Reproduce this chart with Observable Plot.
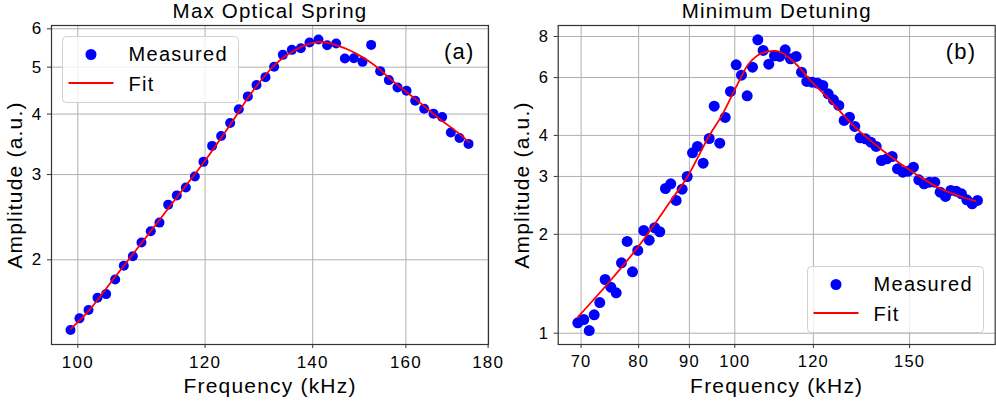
<!DOCTYPE html>
<html><head><meta charset="utf-8">
<script src="https://cdn.jsdelivr.net/npm/d3@7"></script>
<script src="https://cdn.jsdelivr.net/npm/@observablehq/plot@0.6"></script>
<style>
body{margin:0;background:#fff;}
#wrap{position:relative;width:996px;height:403px;overflow:hidden;font-family:"Liberation Sans",Arial,sans-serif;}
.panel{position:absolute;top:0;}
.legend{position:absolute;overflow:visible;}
</style></head>
<body><div id="wrap"></div>
<script>
// ---------- data ----------
const titleA = "Max Optical Spring";
const titleB = "Minimum Detuning";
const xLabel = "Frequency (kHz)";
const yLabel = "Amplitude (a.u.)";
const tagA = "(a)", tagB = "(b)";
const legendLabels = ["Measured", "Fit"];

const aXTicks = [100, 120, 140, 160, 180];
const aYTicks = [2, 3, 4, 5, 6];
const bXTicks = [70, 80, 90, 100, 120, 150];
const bYTicks = [1, 2, 3, 4, 6, 8];

const aFreq = [98.96, 100.24, 101.54, 102.86, 104.14, 105.50, 106.81, 108.20, 109.55, 111.02,
  112.41, 113.82, 115.24, 116.74, 118.25, 119.72, 121.22, 122.79, 124.39, 125.94,
  127.58, 129.17, 130.85, 132.48, 134.14, 135.88, 137.64, 139.36, 141.17, 142.93,
  144.79, 146.60, 148.50, 150.36, 152.23, 154.21, 156.14, 158.09, 160.15, 162.15,
  164.25, 166.45, 168.54, 170.64, 172.77, 175.02];
const aAmp = [1.433, 1.514, 1.576, 1.670, 1.699, 1.822, 1.944, 2.035, 2.171, 2.291,
  2.387, 2.600, 2.717, 2.822, 2.973, 3.187, 3.438, 3.605, 3.834, 4.091,
  4.351, 4.591, 4.768, 5.008, 5.301, 5.428, 5.471, 5.620, 5.700, 5.549,
  5.593, 5.209, 5.218, 5.127, 5.558, 4.906, 4.701, 4.541, 4.469, 4.262,
  4.104, 4.008, 3.945, 3.663, 3.571, 3.471];
const aFitFreq = [99.0, 101.6, 105.3, 111.0, 116.4, 119.8, 124.4, 128.1, 131.8, 134.3, 136.5, 138.5,
  140.9, 143.0, 145.0, 147.0, 149.2, 151.5, 153.5, 158.0, 162.6, 167.4, 172.2, 175.1];
const aFitAmp = [1.44, 1.57, 1.83, 2.29, 2.81, 3.18, 3.80, 4.40, 4.95, 5.24, 5.42, 5.55,
  5.63, 5.62, 5.54, 5.45, 5.32, 5.16, 5.00, 4.60, 4.27, 3.94, 3.67, 3.50];

const bFreq = [69.47, 70.44, 71.33, 72.16, 73.10, 74.02, 74.99, 75.94, 76.88, 77.90,
  78.87, 79.84, 80.96, 81.98, 83.05, 84.02, 85.14, 86.19, 87.28, 88.50,
  89.54, 90.65, 91.70, 92.92, 94.23, 95.33, 96.57, 97.79, 99.00, 100.32,
  101.56, 102.91, 104.19, 105.48, 106.80, 108.20, 109.64, 110.99, 112.40, 113.79,
  115.30, 116.73, 118.18, 119.65, 121.14, 122.65, 124.18, 125.72, 127.29, 128.88,
  130.48, 132.10, 133.75, 135.42, 137.10, 138.81, 140.54, 142.29, 144.06, 145.85,
  147.67, 149.51, 151.36, 153.25, 155.16, 157.09, 159.05, 161.03, 163.04, 165.07,
  167.12, 169.21, 171.32, 173.45, 175.60];
const bAmp = [1.076, 1.101, 1.019, 1.138, 1.240, 1.457, 1.381, 1.327, 1.638, 1.902,
  1.538, 1.786, 2.054, 1.919, 2.094, 2.036, 2.757, 2.850, 2.535, 2.744,
  2.999, 3.541, 3.701, 3.292, 3.914, 4.909, 3.787, 4.535, 5.442, 6.561,
  6.099, 5.280, 6.451, 7.817, 7.253, 6.589, 6.988, 6.954, 7.288, 6.842,
  6.954, 6.230, 5.837, 5.809, 5.769, 5.675, 5.353, 5.133, 4.933, 4.441,
  4.546, 4.258, 3.933, 3.905, 3.815, 3.701, 3.355, 3.395, 3.450, 3.165,
  3.092, 3.114, 3.202, 2.930, 2.849, 2.882, 2.882, 2.687, 2.607, 2.719,
  2.706, 2.656, 2.547, 2.477, 2.535];
const bFitFreq = [69.47, 74.94, 80.34, 86.48, 89.54, 94.14, 97.11, 100.55, 103.29, 106.14, 109.46,
  111.18, 114.24, 116.46, 119.19, 123.90, 128.77, 133.85, 140.21, 146.87, 153.85, 161.16, 168.82, 174.78];
const bFitAmp = [1.119, 1.447, 1.871, 2.565, 2.985, 3.97, 4.62, 5.70, 6.607, 7.086, 7.237,
  7.167, 6.762, 6.380, 5.877, 5.228, 4.599, 4.091, 3.642, 3.278, 2.985, 2.751, 2.607, 2.523];

// ---------- drawing ----------
const FONT = '"Liberation Sans", Arial, sans-serif';
const zip = (fs, as) => fs.map((f, i) => ({f, a: as[i]}));
const label = d => String(d);

function panel(o) {
  return Plot.plot({
    width: o.w, height: 403,
    marginLeft: o.mL, marginRight: o.mR, marginTop: 25, marginBottom: 59,
    style: {fontFamily: FONT, letterSpacing: "1.2px", overflow: "visible", background: "transparent", color: "#000"},
    x: {type: "log", domain: o.xDom},
    y: {type: "log", domain: o.yDom},
    marks: [
      Plot.gridX(o.xTicks, {stroke: "#b0b0b0", strokeOpacity: 1, strokeWidth: 1}),
      Plot.gridY(o.yTicks, {stroke: "#b0b0b0", strokeOpacity: 1, strokeWidth: 1}),
      Plot.dot(o.pts, {x: "f", y: "a", r: o.r, fill: "#0000ff", stroke: null}),
      Plot.line(o.fit, {x: "f", y: "a", stroke: "#ff0000", strokeWidth: 1.8, curve: "catmull-rom"}),
      Plot.frame({stroke: "#333", strokeWidth: 1.2}),
      Plot.axisX(o.xTicks, {tickSize: 4, tickPadding: 7, fontSize: o.fs, text: label, label: null, stroke: "#333"}),
      Plot.axisY(o.yTicks, {tickSize: 4, tickPadding: 5, fontSize: o.fs, text: label, label: null, stroke: "#333"}),
      Plot.text([o.title], {frameAnchor: "top", dy: -14, fontSize: 20.5, textAnchor: "middle", lineAnchor: "middle", fill: "#000"}),
      Plot.text([xLabel], {frameAnchor: "bottom", dy: 42, fontSize: 21, textAnchor: "middle", lineAnchor: "middle", fill: "#000"}),
      Plot.text([yLabel], {frameAnchor: "left", dx: o.ylDx, rotate: -90, fontSize: 21, textAnchor: "middle", lineAnchor: "middle", fill: "#000"}),
      Plot.text([o.tag], {frameAnchor: "top-right", dx: o.tagDx, dy: 26, fontSize: 22, textAnchor: "end", lineAnchor: "middle", fill: "#000"})
    ]
  });
}

const wrap = document.getElementById("wrap");
function place(el, left) {
  const d = document.createElement("div");
  d.className = "panel"; d.style.left = left + "px";
  d.appendChild(el); wrap.appendChild(d);
}

place(panel({w: 500, mL: 51, mR: 12, xDom: [96.3, 180.1], yDom: [1.337, 6.095],
  xTicks: aXTicks, yTicks: aYTicks, pts: zip(aFreq, aAmp), fit: zip(aFitFreq, aFitAmp),
  title: titleA, tag: tagA, r: 5, fs: 17, ylDx: -36, tagDx: -14}), 0);
place(panel({w: 496, mL: 57.7, mR: 1.3, xDom: [66.38, 182.97], yDom: [0.924, 8.64],
  xTicks: bXTicks, yTicks: bYTicks, pts: zip(bFreq, bAmp), fit: zip(bFitFreq, bFitAmp),
  title: titleB, tag: tagB, r: 5.5, fs: 16.5, ylDx: -36, tagDx: -19}), 500);

function legend(left, top) {
  const ns = "http://www.w3.org/2000/svg";
  const svg = document.createElementNS(ns, "svg");
  svg.setAttribute("class", "legend");
  svg.setAttribute("width", 178); svg.setAttribute("height", 68);
  svg.style.left = left + "px"; svg.style.top = top + "px";
  const mk = (tag, attrs, text) => {
    const e = document.createElementNS(ns, tag);
    for (const k in attrs) e.setAttribute(k, attrs[k]);
    if (text != null) e.textContent = text;
    svg.appendChild(e); return e;
  };
  mk("rect", {x: 0.5, y: 0.5, width: 176, height: 66, rx: 4, fill: "rgba(255,255,255,0.8)", stroke: "#d0d0d0", "stroke-width": 1});
  mk("circle", {cx: 29, cy: 18.5, r: 5.5, fill: "#0000ff"});
  mk("line", {x1: 6.5, x2: 51.5, y1: 47, y2: 47, stroke: "#ff0000", "stroke-width": 2});
  const ts = {x: 66.5, "font-size": 20, "font-family": FONT, "letter-spacing": "1.3px", fill: "#000"};
  mk("text", {...ts, y: 25}, legendLabels[0]);
  mk("text", {...ts, y: 54.5}, legendLabels[1]);
  wrap.appendChild(svg);
}
legend(62, 36);
legend(807, 266);
</script>
</body></html>
